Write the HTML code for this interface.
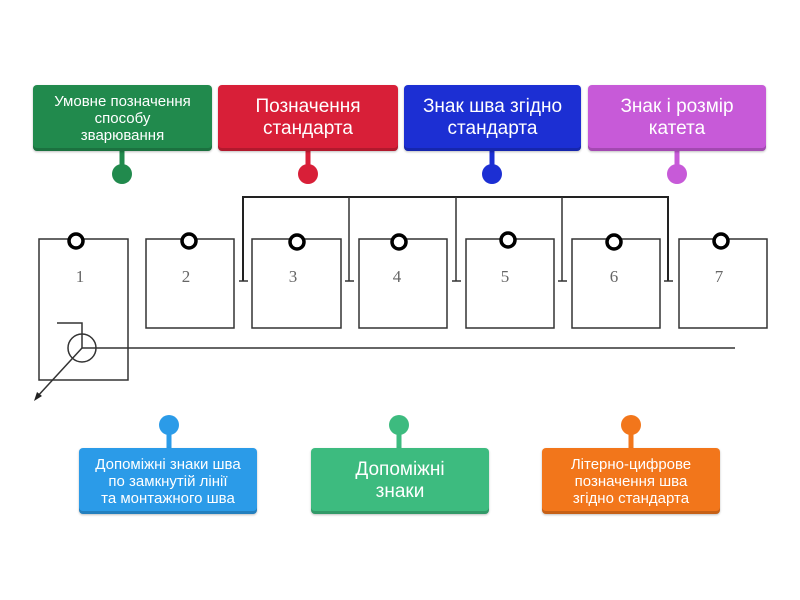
<!DOCTYPE html>
<html><head><meta charset="utf-8"><style>
body{margin:0;width:800px;height:600px;background:#fff;position:relative;overflow:hidden;font-family:"Liberation Sans","DejaVu Sans",sans-serif}
.l{position:absolute;border-radius:4px;color:#fff;display:flex;align-items:center;justify-content:center;text-align:center;box-shadow:inset 0 -3px 0 rgba(0,0,0,.18),0 1px 2px rgba(0,0,0,.25)}
</style></head><body>
<svg width="800" height="600" style="position:absolute;left:0;top:0">
<g fill="none" stroke="#333" stroke-width="1.5">
<rect x="39" y="239" width="89" height="141"/>
<rect x="146" y="239" width="88" height="89"/>
<rect x="252" y="239" width="89" height="89"/>
<rect x="359" y="239" width="88" height="89"/>
<rect x="466" y="239" width="88" height="89"/>
<rect x="572" y="239" width="88" height="89"/>
<rect x="679" y="239" width="88" height="89"/>
<polyline points="243,281 243,197 668,197 668,281" stroke="#222" stroke-width="2"/>
<line x1="349" y1="197" x2="349" y2="281"/><line x1="456" y1="197" x2="456" y2="281"/><line x1="562" y1="197" x2="562" y2="281"/>
<line x1="239" y1="281" x2="248" y2="281"/><line x1="345" y1="281" x2="354" y2="281"/><line x1="452" y1="281" x2="461" y2="281"/><line x1="558" y1="281" x2="567" y2="281"/><line x1="664" y1="281" x2="673" y2="281"/>
<line x1="82" y1="348" x2="735" y2="348"/>
<circle cx="82" cy="348" r="14"/>
<polyline points="57,323 82,323 82,348"/>
<line x1="82" y1="348" x2="36" y2="398"/>
</g>
<polygon points="34,401 37,392 42,396" fill="#222"/>
<g font-family="Liberation Serif,serif" font-size="17" fill="#666" text-anchor="middle">
<text x="80" y="282" transform="">1</text><text x="186" y="282">2</text><text x="293" y="282">3</text><text x="397" y="282">4</text><text x="505" y="282">5</text><text x="614" y="282">6</text><text x="719" y="282">7</text>
</g>
<g fill="#fff" stroke="#000" stroke-width="3.5">
<circle cx="76" cy="241" r="7"/><circle cx="189" cy="241" r="7"/><circle cx="297" cy="242" r="7"/><circle cx="399" cy="242" r="7"/><circle cx="508" cy="240" r="7"/><circle cx="614" cy="242" r="7"/><circle cx="721" cy="241" r="7"/>
</g>
<g stroke-width="5">
<line x1="122" y1="150" x2="122" y2="174" stroke="#218a4d"/><circle cx="122" cy="174" r="10" fill="#218a4d" stroke="none"/>
<line x1="308" y1="150" x2="308" y2="174" stroke="#d81f38"/><circle cx="308" cy="174" r="10" fill="#d81f38" stroke="none"/>
<line x1="492" y1="150" x2="492" y2="174" stroke="#1c2fd3"/><circle cx="492" cy="174" r="10" fill="#1c2fd3" stroke="none"/>
<line x1="677" y1="150" x2="677" y2="174" stroke="#c75ad8"/><circle cx="677" cy="174" r="10" fill="#c75ad8" stroke="none"/>
<line x1="169" y1="425" x2="169" y2="450" stroke="#2b9be8"/><circle cx="169" cy="425" r="10" fill="#2b9be8" stroke="none"/>
<line x1="399" y1="425" x2="399" y2="450" stroke="#3dbb7f"/><circle cx="399" cy="425" r="10" fill="#3dbb7f" stroke="none"/>
<line x1="631" y1="425" x2="631" y2="450" stroke="#f2761b"/><circle cx="631" cy="425" r="10" fill="#f2761b" stroke="none"/>
</g>
</svg>
<div class="l" style="left:33px;top:85px;width:179px;height:66px;background:#218a4d;font-size:15px;line-height:17px">Умовне позначення<br>способу<br>зварювання</div>
<div class="l" style="left:218px;top:85px;width:180px;height:66px;background:#d81f38;font-size:19px;line-height:22px">Позначення<br>стандарта</div>
<div class="l" style="left:404px;top:85px;width:177px;height:66px;background:#1c2fd3;font-size:19px;line-height:22px">Знак шва згідно<br>стандарта</div>
<div class="l" style="left:588px;top:85px;width:178px;height:66px;background:#c75ad8;font-size:19px;line-height:22px">Знак і розмір<br>катета</div>
<div class="l" style="left:79px;top:448px;width:178px;height:66px;background:#2b9be8;font-size:15px;line-height:17px">Допоміжні знаки шва<br>по замкнутій лінії<br>та монтажного шва</div>
<div class="l" style="left:311px;top:448px;width:178px;height:66px;background:#3dbb7f;font-size:19px;line-height:22px">Допоміжні<br>знаки</div>
<div class="l" style="left:542px;top:448px;width:178px;height:66px;background:#f2761b;font-size:15px;line-height:17px">Літерно-цифрове<br>позначення шва<br>згідно стандарта</div>
</body></html>
